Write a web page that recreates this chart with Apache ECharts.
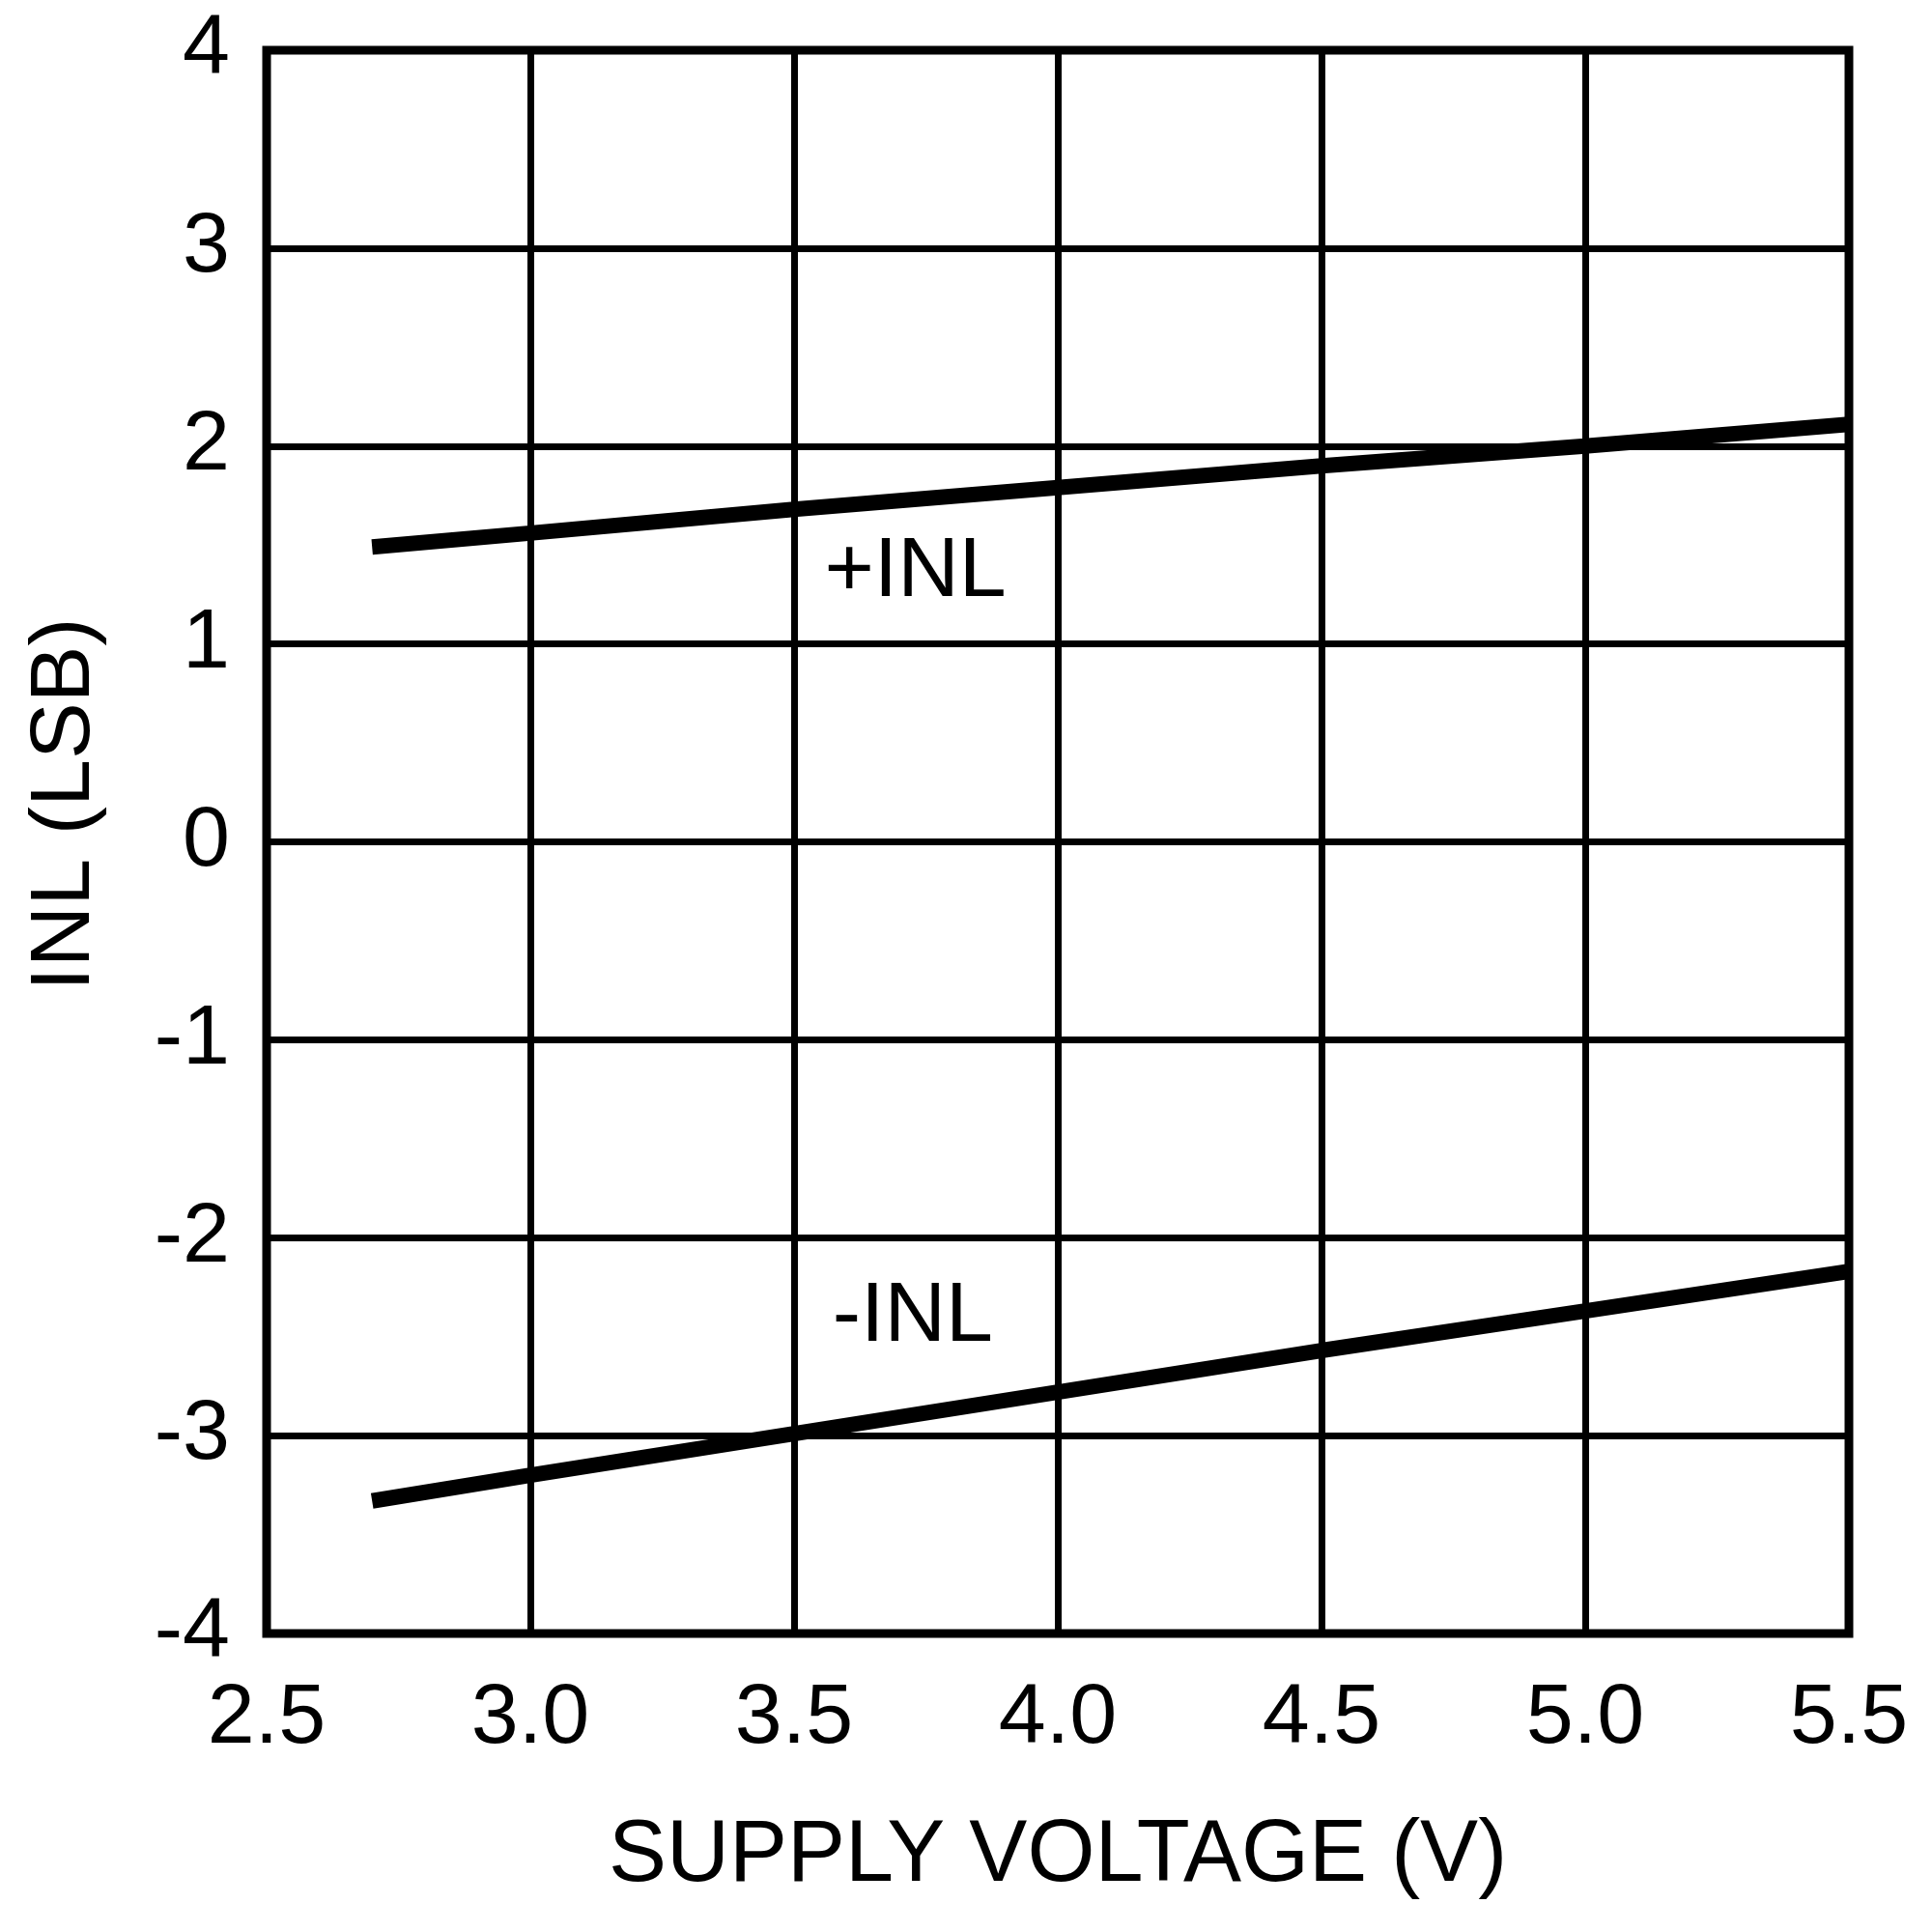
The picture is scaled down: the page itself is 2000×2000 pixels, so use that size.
<!DOCTYPE html>
<html>
<head>
<meta charset="utf-8">
<script src="https://cdn.jsdelivr.net/npm/echarts@6/dist/echarts.min.js"></script>
<style>
html,body{margin:0;padding:0;background:#fff;}
#chart{width:2000px;height:2000px;}
</style>
</head>
<body>
<div id="chart"></div>
<script>
// Data
const supplyVoltage = [2.7, 3.0, 3.5, 4.0, 4.5, 5.0, 5.5];
const plusINL  = [1.49, 1.56, 1.68, 1.79, 1.90, 2.00, 2.11];
const minusINL = [-3.33, -3.20, -2.99, -2.78, -2.57, -2.37, -2.17];
const seriesNames = ['+INL', '-INL'];
const labelPos = { '+INL': [3.73, 1.36], '-INL': [3.725, -2.405] };
const xTitle = 'SUPPLY VOLTAGE (V)';
const yTitle = 'INL (LSB)';

const FONT = '"Liberation Sans", Arial, sans-serif';
const chart = echarts.init(document.getElementById('chart'), null, {renderer: 'canvas'});

function pairs(xs, ys) { return xs.map((x, i) => [x, ys[i]]); }

function mkSeries(name, values) {
  return {
    name: name,
    type: 'line',
    data: pairs(supplyVoltage, values),
    showSymbol: false,
    symbol: 'none',
    lineStyle: { color: '#000', width: 16, cap: 'butt' },
    silent: true,
    markPoint: {
      symbol: 'circle',
      symbolSize: 0,
      data: [{ coord: labelPos[name] }],
      label: {
        show: true,
        position: 'inside',
        formatter: name,
        color: '#000',
        fontFamily: FONT,
        fontSize: 88
      }
    }
  };
}

chart.setOption({
  animation: false,
  backgroundColor: '#fff',
  grid: {
    left: 276, right: 86, top: 52, bottom: 309,
    show: true, borderColor: '#000', borderWidth: 9, backgroundColor: 'transparent'
  },
  xAxis: {
    type: 'value',
    min: 2.5, max: 5.5, interval: 0.5,
    name: xTitle,
    nameLocation: 'middle',
    nameGap: 186,
    nameTextStyle: { color: '#000', fontFamily: FONT, fontSize: 90 },
    axisLine: { show: false },
    axisTick: { show: false },
    axisLabel: {
      color: '#000', fontFamily: FONT, fontSize: 88, margin: 45,
      formatter: v => v.toFixed(1)
    },
    splitLine: { show: true, lineStyle: { color: '#000', width: 7 } }
  },
  yAxis: {
    type: 'value',
    min: -4, max: 4, interval: 1,
    name: yTitle,
    nameLocation: 'middle',
    nameGap: 164,
    nameRotate: 90,
    nameTextStyle: { color: '#000', fontFamily: FONT, fontSize: 88, padding: [0, 0, 0, 78] },
    axisLine: { show: false },
    axisTick: { show: false },
    axisLabel: { color: '#000', fontFamily: FONT, fontSize: 88, margin: 38 },
    splitLine: { show: true, lineStyle: { color: '#000', width: 7 } }
  },
  series: [mkSeries(seriesNames[0], plusINL), mkSeries(seriesNames[1], minusINL)]
});
</script>
</body>
</html>
